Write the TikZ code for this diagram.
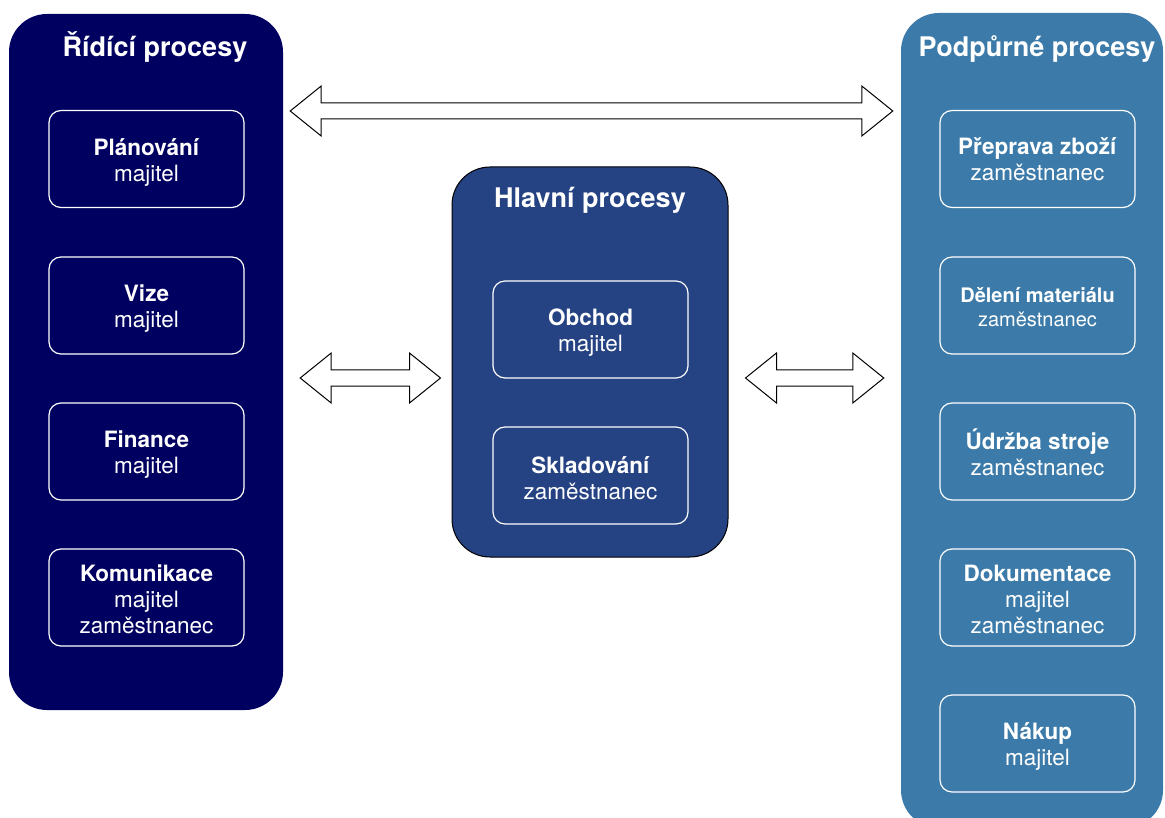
\documentclass[tikz,border=0pt]{standalone}
\usepackage{fontspec}
\setmainfont{TeX Gyre Heros}
\usetikzlibrary{calc}
\definecolor{ridici}{HTML}{000060}
\definecolor{hlavni}{HTML}{254282}
\definecolor{podpurne}{HTML}{3C7BA9}
\tikzset{
  panel/.style={rectangle, rounded corners=38pt, inner sep=0pt},
  title/.style={text=white, font=\fontsize{27}{32}\selectfont\bfseries, anchor=base},
  procbox/.style={rectangle, draw=white, line width=1.2pt, rounded corners=12pt,
    minimum width=195pt, minimum height=97pt, inner sep=0pt},
  boxtext/.style={text=white, align=center, inner sep=0pt,
    font=\fontsize{22.5}{26}\selectfont},
  smalltext/.style={boxtext, font=\fontsize{20}{24}\selectfont},
  barrow/.style={draw=black, fill=white, line width=1pt, line join=miter}
}
% block double arrow between two named coordinates on one horizontal line
\newcommand\blockarrow[2]{%
  \draw[barrow] (#1) -- ($(#1)+(31,-25)$) -- ($(#1)+(31,-8)$) -- ($(#2)+(-31,-8)$)
    -- ($(#2)+(-31,-25)$) -- (#2) -- ($(#2)+(-31,25)$) -- ($(#2)+(-31,8)$)
    -- ($(#1)+(31,8)$) -- ($(#1)+(31,25)$) -- cycle;}
\begin{document}
\begin{tikzpicture}[x=1pt, y=-1pt]
\useasboundingbox (0,0) rectangle (1165,818);

% panels
\node[panel, fill=ridici, minimum width=274pt, minimum height=696pt] (ridici) at (146,362) {};
\node[panel, fill=hlavni, draw=black, line width=1pt, minimum width=276pt, minimum height=390pt] (hlavni) at (590,362) {};
\node[panel, fill=podpurne, minimum width=262pt, minimum height=815pt] (podpurne) at (1032,420.5) {};

% panel titles
\node[title] (tR) at (155,57) {Řídící procesy};
\node[title] (tH) at (590,208) {Hlavní procesy};
\node[title] (tP) at (1037,57) {Podpůrné procesy};

% řídící procesy
\node[procbox] (planovani) at (146.5,159) {};
\node[procbox] (vize) at (146.5,305.5) {};
\node[procbox] (finance) at (146.5,451.5) {};
\node[procbox] (komunikace) at (146.5,597.5) {};
\node[boxtext] (planovaniT) at ([yshift=-3pt]planovani.center) {\textbf{Plánování}\\majitel};
\node[boxtext] (vizeT) at ([yshift=-3pt]vize.center) {\textbf{Vize}\\majitel};
\node[boxtext] (financeT) at ([yshift=-3pt]finance.center) {\textbf{Finance}\\majitel};
\node[boxtext] (komunikaceT) at ([yshift=-2pt]komunikace.center) {\textbf{Komunikace}\\majitel\\zaměstnanec};

% hlavní procesy
\node[procbox] (obchod) at (590.5,329.5) {};
\node[procbox] (skladovani) at (590.5,475.5) {};
\node[boxtext] (obchodT) at ([yshift=-3pt]obchod.center) {\textbf{Obchod}\\majitel};
\node[boxtext] (skladovaniT) at ([yshift=-3pt]skladovani.center) {\textbf{Skladování}\\zaměstnanec};

% podpůrné procesy
\node[procbox] (preprava) at (1037.5,159) {};
\node[procbox] (deleni) at (1037.5,305.5) {};
\node[procbox] (udrzba) at (1037.5,451.5) {};
\node[procbox] (dokumentace) at (1037.5,597.5) {};
\node[procbox] (nakup) at (1037.5,743.5) {};
\node[boxtext] (prepravaT) at ([yshift=-0.5pt]preprava.center) {\textbf{Přeprava zboží}\\zaměstnanec};
\node[smalltext] (deleniT) at ([yshift=-1.5pt]deleni.center) {\textbf{Dělení materiálu}\\zaměstnanec};
\node[boxtext] (udrzbaT) at ([yshift=-0.5pt]udrzba.center) {\textbf{Údržba stroje}\\zaměstnanec};
\node[boxtext] (dokumentaceT) at ([yshift=-2pt]dokumentace.center) {\textbf{Dokumentace}\\majitel\\zaměstnanec};
\node[boxtext] (nakupT) at ([yshift=-3pt]nakup.center) {\textbf{Nákup}\\majitel};

% arrows between the process groups
\coordinate (topL) at ($(ridici.east |- 0,111)+(7,0)$);
\coordinate (topR) at ($(podpurne.west |- 0,111)+(-8,0)$);
\coordinate (midLa) at ($(ridici.east |- 0,378)+(17,0)$);
\coordinate (midLb) at ($(hlavni.west |- 0,378)+(-11,0)$);
\coordinate (midRa) at ($(hlavni.east |- 0,378)+(17,0)$);
\coordinate (midRb) at ($(podpurne.west |- 0,378)+(-17,0)$);
\blockarrow{topL}{topR}
\blockarrow{midLa}{midLb}
\blockarrow{midRa}{midRb}
\end{tikzpicture}
\end{document}
